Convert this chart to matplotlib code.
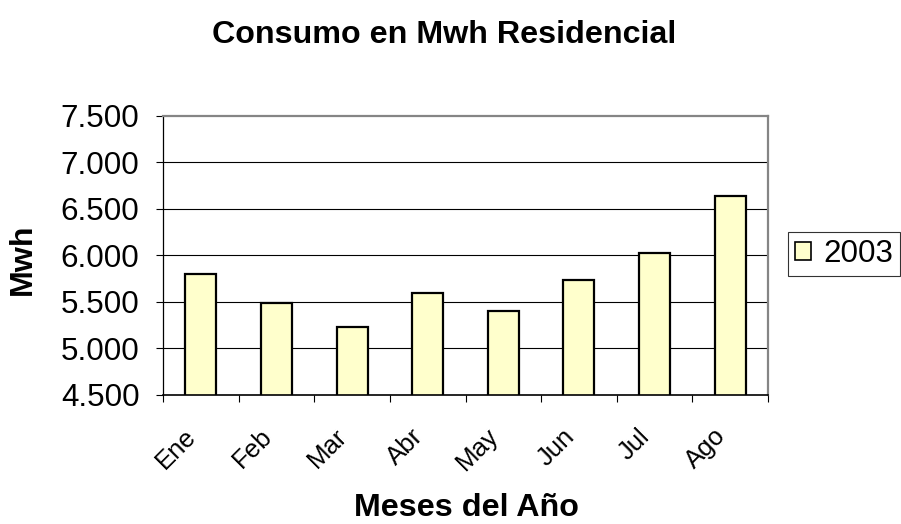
import numpy as np
import matplotlib
matplotlib.use("Agg")
import matplotlib.pyplot as plt
from matplotlib.ticker import FuncFormatter, FixedLocator
from matplotlib.transforms import ScaledTranslation

plt.rcParams['font.family'] = ['Liberation Sans', 'DejaVu Sans']

meses = ["Ene", "Feb", "Mar", "Abr", "May", "Jun", "Jul", "Ago"]
consumo_2003 = [5800, 5490, 5230, 5600, 5400, 5740, 6030, 6640]
y_ticks = [4500, 5000, 5500, 6000, 6500, 7000, 7500]

fs = 22.6     # tick labels / legend
fs_x = 18.5   # rotated month labels
fs_b = 23.2   # bold titles

fig = plt.figure(figsize=(9.01, 5.24), dpi=100)
ax = fig.add_axes([163 / 901, 1 - 395 / 524, (768 - 163) / 901, (395 - 115.7) / 524])

x = np.arange(len(meses))
ax.bar(x, consumo_2003, width=0.41, color="#FFFFCC", edgecolor="black",
       linewidth=1.6, label="2003", zorder=3)

ax.set_xlim(-0.5, len(meses) - 0.5)
ax.set_ylim(y_ticks[0], y_ticks[-1])

# gridlines (black), top one is the grey border
for v in y_ticks[1:-1]:
    ax.axhline(v, color="black", linewidth=0.8, zorder=1)

ax.spines['left'].set_color("black")
ax.spines['left'].set_linewidth(0.9)
ax.spines['bottom'].set_color("black")
ax.spines['bottom'].set_linewidth(1.2)
ax.spines['bottom'].set_zorder(4)
for s in ['top', 'right']:
    ax.spines[s].set_color("#858585")
    ax.spines[s].set_linewidth(1.6)

ax.set_yticks(y_ticks)
ax.yaxis.set_major_formatter(FuncFormatter(lambda v, p: f"{v:,.0f}".replace(",", ".")))
ax.tick_params(axis='y', direction='out', length=5, width=0.8, labelsize=fs, pad=12)

# month labels at centers, tick marks at boundaries
ax.set_xticks(x)
ax.set_xticklabels(meses, rotation=45, ha='right', va='center', rotation_mode='anchor')
ax.xaxis.set_minor_locator(FixedLocator(np.arange(len(meses) + 1) - 0.5))
ax.tick_params(axis='x', which='major', length=0, labelsize=fs_x, pad=27)
ax.tick_params(axis='x', which='minor', direction='out', length=5, width=0.8)
off = ScaledTranslation(-6 / 72, 0, fig.dpi_scale_trans)
for lbl in ax.get_xticklabels():
    lbl.set_transform(lbl.get_transform() + off)

fig.text(444.5 / 901, 1 - 43 / 524, "Consumo en Mwh Residencial", ha='center',
         va='baseline', fontsize=fs_b, fontweight='bold')
fig.text(466 / 901, 8 / 524, "Meses del Año", ha='center', va='baseline',
         fontsize=fs_b, fontweight='bold')
fig.text(23 / 901, 1 - 259.5 / 524, "Mwh", ha='center', va='center',
         rotation=90, fontsize=fs_b, fontweight='bold')

leg = fig.legend(loc='upper left', bbox_to_anchor=(788 / 901, 1 - 232 / 524),
                 fontsize=fs, frameon=True, fancybox=False, borderpad=0.22,
                 handlelength=0.5, handleheight=0.5, handletextpad=0.4,
                 borderaxespad=0)
leg.get_frame().set_edgecolor("black")
leg.get_frame().set_linewidth(0.8)
for h in leg.legend_handles:
    h.set_linewidth(1.2)

fig.savefig("out.png", dpi=100)
